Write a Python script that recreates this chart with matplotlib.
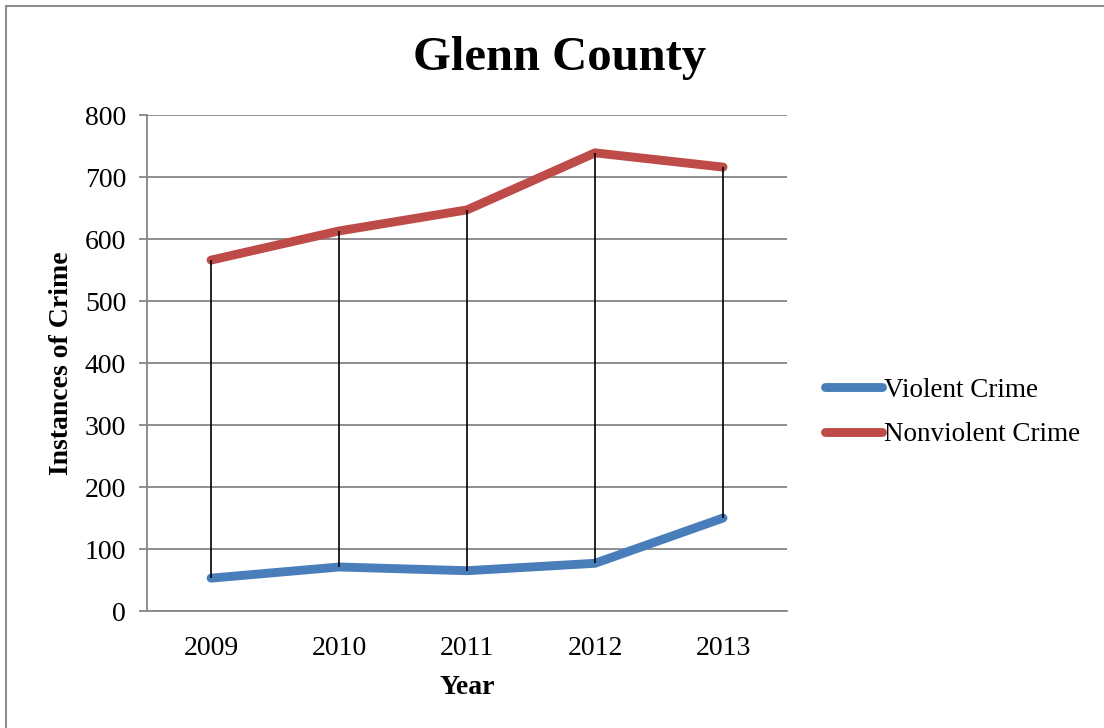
import matplotlib
matplotlib.use("Agg")
import matplotlib.pyplot as plt
from matplotlib.patches import Rectangle

years = ["2009", "2010", "2011", "2012", "2013"]
violent = [53, 71, 65, 77, 150]
nonviolent = [566, 613, 647, 739, 716]

plt.rcParams['font.family'] = ['Liberation Serif', 'DejaVu Serif']

fig = plt.figure(figsize=(11.04, 7.28), dpi=100)
ax = fig.add_axes([0.1332, 0.1607, 0.5797, 0.6813])

x = list(range(len(years)))
grid_c = '#868686'

ax.plot(x, violent, color='#4A7EBB', lw=6.4, solid_capstyle='round',
        solid_joinstyle='round', label='Violent Crime', zorder=3)
ax.plot(x, nonviolent, color='#BE4B48', lw=6.4, solid_capstyle='round',
        solid_joinstyle='round', label='Nonviolent Crime', zorder=3)

# high-low lines between the two series
ax.vlines(x, violent, nonviolent, color='black', lw=1.2, zorder=4)

ax.set_xlim(-0.5, 4.5)
ax.set_ylim(0, 800)
ax.set_yticks(range(0, 801, 100))
ax.set_xticks(x)
ax.set_xticklabels(years)
ax.yaxis.grid(True, color=grid_c, lw=1.3)
ax.set_axisbelow(True)

for side in ['top', 'right']:
    ax.spines[side].set_visible(False)
ax.spines['left'].set_color(grid_c)
ax.spines['bottom'].set_color(grid_c)
ax.spines['left'].set_linewidth(1.3)
ax.spines['bottom'].set_linewidth(1.3)
ax.tick_params(axis='y', length=6, width=1.3, color=grid_c, labelsize=20, pad=9)
ax.tick_params(axis='x', length=0, labelsize=20, pad=18)

ax.set_xlabel('Year', fontsize=20, fontweight='bold', labelpad=10)
ax.set_ylabel('Instances of Crime', fontsize=20, fontweight='bold', labelpad=8)
fig.text(0.507, 0.921, 'Glenn County', ha='center', va='center',
         fontsize=35, fontweight='bold')

ax.legend(loc='center left', bbox_to_anchor=(1.022, 0.4), frameon=False,
          fontsize=19.5, handlelength=2.1, handletextpad=0.05, labelspacing=0.72)

# outer border of the chart
fig.patches.append(Rectangle((6 / 1104, -0.1), 1.2, 1 - 6 / 728 + 0.1,
                             transform=fig.transFigure, fill=False,
                             edgecolor='#8c8c8c', lw=1.5))

fig.savefig('out.png', dpi=100)
